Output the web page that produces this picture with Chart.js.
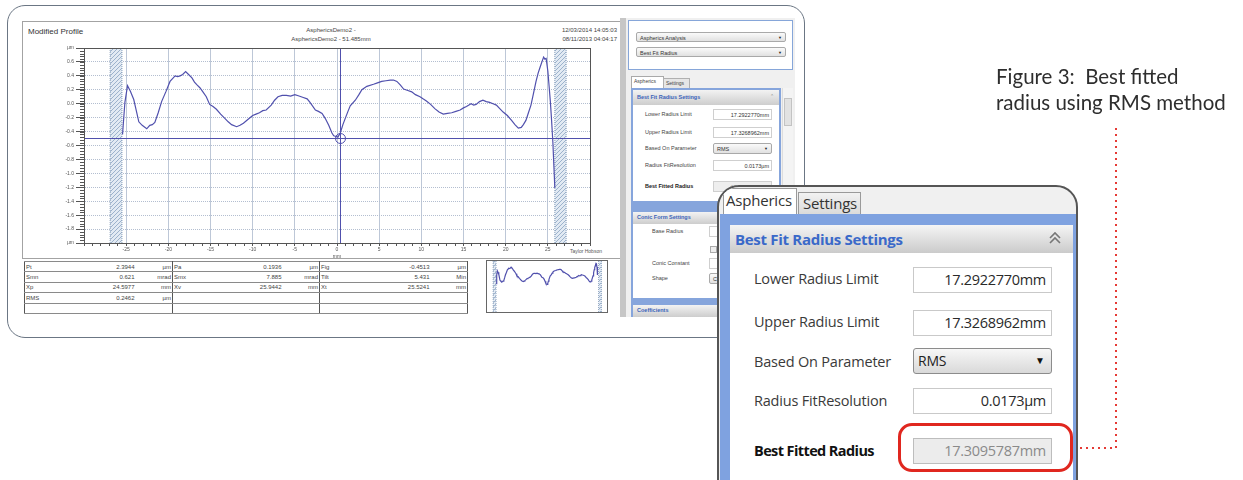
<!DOCTYPE html>
<html>
<head>
<meta charset="utf-8">
<script src="https://cdn.jsdelivr.net/npm/chart.js@4.4.0/dist/chart.umd.min.js"></script>
<style>
    body { margin: 0; width: 1243px; height: 480px; background: #fff; position: relative; overflow: hidden; font-family: Arial, "Liberation Sans", sans-serif; }
    .abs { position: absolute; }
    .t { position: absolute; white-space: nowrap; color: #333; line-height: 1; }
    .frame { left: 7px; top: 5px; width: 796px; height: 331px; border: 1.5px solid #6b7684; border-radius: 18px; }
    .report { left: 22px; top: 21px; width: 597px; height: 236px; border: 1px solid #a3a3a3; }
    .small { font-size: 6px; color: #444; }
    #stats { position: absolute; left: 24px; top: 261px; border-collapse: collapse; font-size: 6px; color: #444; table-layout: fixed; }
    #stats td { height: 9.4px; padding: 0 1px; border-top: 1px solid #8a8a8a; border-bottom: 1px solid #8a8a8a; white-space: nowrap; line-height: 1; }
    #stats td.v, #stats td.u { text-align: right; }
    #stats td.u { border-right: 1px solid #555; }
    #stats td.l { border-left: 1px solid #555; }
    #stats { border: 1px solid #555; }
    .dd { position: absolute; height: 10px; border: 1px solid #a9a9a9; border-radius: 2px; background: linear-gradient(#fafafa, #e1e1e1); font-size: 5.5px; color: #333; line-height: 10px; padding-left: 3px; box-sizing: border-box; }
    .dd b { position: absolute; right: 3px; top: 0; font-size: 4px; color: #222; }
    .inp { position: absolute; height: 11px; border: 1px solid #cfcfcf; background: #fff; box-sizing: border-box; font-size: 5.5px; text-align: right; line-height: 10px; padding-right: 2px; color: #333; }
    .lab { position: absolute; font-size: 5.5px; color: #444; white-space: nowrap; line-height: 1; }
    .sec { position: absolute; background: linear-gradient(#f3f3f3, #cdcdcd); font-size: 5.5px; font-weight: bold; color: #3b63b9; line-height: 1; box-sizing: border-box; }
    /* zoomed callout */
    .callout { left: 717px; top: 185px; width: 357px; height: 330px; border: 2px solid #555; border-radius: 22px; background: #f0f0f0; overflow: hidden; }
    .cl { position: absolute; font-family: "Open Sans", "Noto Sans", sans-serif; font-size: 14.5px; color: #3a3a3a; white-space: nowrap; line-height: 1; letter-spacing: -0.2px; }
    .cin { position: absolute; left: 194px; width: 139px; height: 26px; border: 1px solid #c9c9c9; background: #fff; box-sizing: border-box; font-family: "Open Sans", "Noto Sans", sans-serif; font-size: 14.5px; letter-spacing: -0.3px; color: #2a2a2a; text-align: right; line-height: 24px; padding-right: 5px; }
    .caption { left: 996px; top: 63px; font-family: Lato, "Open Sans", sans-serif; font-size: 20.5px; line-height: 26px; color: #2e2e2e; white-space: nowrap; }
</style>
</head>
<body>

<div class="abs frame"></div>
<div class="abs report"></div>

<div class="t" style="left:28px;top:28px;font-size:8px;color:#333;">Modified Profile</div>
<div class="t small" style="left:291px;top:27px;width:80px;text-align:center;">AsphericsDemo2 -</div>
<div class="t small" style="left:291px;top:36px;width:80px;text-align:center;">AsphericsDemo2 - 51.485mm</div>
<div class="t small" style="left:540px;top:27px;width:77px;text-align:right;">12/03/2014 14:05:03</div>
<div class="t small" style="left:540px;top:36px;width:77px;text-align:right;">08/11/2013 04:04:17</div>
<div class="t" style="left:570px;top:249px;font-size:5px;color:#555;">Taylor Hobson</div>

<canvas id="profile" class="abs" style="left:22px;top:20px;" width="598" height="240"></canvas>

<table id="stats"></table>

<div class="abs" style="left:486px;top:260px;width:120px;height:51px;border:1px solid #666;"></div>
<canvas id="mini" class="abs" style="left:487px;top:261px;" width="120" height="51"></canvas>

<!-- side panel of the screenshot -->
<div class="abs" style="left:620px;top:18px;width:6px;height:299px;background:#c6c6c6;"></div>
<div class="abs" style="left:626px;top:18px;width:169px;height:299px;background:#f0f0f0;"></div>
<div class="abs" style="left:628px;top:20px;width:163px;height:48px;border:1.5px solid #86a6d9;background:#fff;"></div>
<div class="dd" style="left:636px;top:32px;width:150px;">Aspherics Analysis<b>&#9660;</b></div>
<div class="dd" style="left:636px;top:47px;width:150px;">Best Fit Radius<b>&#9660;</b></div>
<div class="abs" style="left:631px;top:76px;width:31px;height:12px;background:#fff;border:1px solid #a9a9a9;border-bottom:none;"></div>
<div class="lab" style="left:634px;top:79px;font-size:5px;">Aspherics</div>
<div class="abs" style="left:663px;top:78px;width:25px;height:10px;background:#e6e6e6;border:1px solid #b0b0b0;border-bottom:none;"></div>
<div class="lab" style="left:666px;top:81px;font-size:5px;">Settings</div>
<div class="abs" style="left:631px;top:88px;width:150px;height:229px;background:#86a5dc;"></div>
<div class="abs" style="left:633px;top:90px;width:146px;height:111px;background:#fff;"></div>
<div class="sec" style="left:633px;top:90px;width:146px;height:15px;padding:5px 0 0 4px;">Best Fit Radius Settings</div>
<div class="lab" style="left:770px;top:94px;color:#888;font-size:5px;">&#8963;</div>
<div class="abs" style="left:782px;top:88px;width:10px;height:140px;background:#f4f4f4;border-left:1px solid #ddd;"></div>
<div class="abs" style="left:784px;top:98px;width:6px;height:26px;background:#e2e2e2;border:1px solid #c3c3c3;"></div>
<div class="lab" style="left:645px;top:112px;">Lower Radius Limit</div>
<div class="inp" style="left:713px;top:109px;width:59px;">17.2922770mm</div>
<div class="lab" style="left:645px;top:130px;">Upper Radius Limit</div>
<div class="inp" style="left:713px;top:127px;width:59px;">17.3268962mm</div>
<div class="lab" style="left:645px;top:146px;">Based On Parameter</div>
<div class="dd" style="left:713px;top:143px;width:59px;height:11px;">RMS<b>&#9660;</b></div>
<div class="lab" style="left:645px;top:163px;">Radius FitResolution</div>
<div class="inp" style="left:713px;top:160px;width:59px;">0.0173&micro;m</div>
<div class="lab" style="left:645px;top:184px;font-weight:bold;color:#222;">Best Fitted Radius</div>
<div class="inp" style="left:713px;top:181px;width:59px;background:#eee;color:#999;">17.3095787mm</div>
<div class="abs" style="left:633px;top:212px;width:146px;height:86px;background:#fff;"></div>
<div class="sec" style="left:633px;top:212px;width:146px;height:12px;padding:3px 0 0 4px;">Conic Form Settings</div>
<div class="lab" style="left:652px;top:229px;">Base Radius</div>
<div class="inp" style="left:709px;top:226px;width:30px;"></div>
<div class="abs" style="left:710px;top:246px;width:5px;height:5px;border:1px solid #aaa;background:#eee;"></div>
<div class="lab" style="left:652px;top:261px;">Conic Constant</div>
<div class="inp" style="left:709px;top:258px;width:30px;"></div>
<div class="lab" style="left:652px;top:276px;">Shape</div>
<div class="dd" style="left:709px;top:273px;width:30px;height:11px;">C</div>
<div class="sec" style="left:633px;top:305px;width:146px;height:12px;padding:3px 0 0 4px;">Coefficients</div>

<!-- zoomed callout -->
<div class="abs callout">
    <div class="abs" style="left:4px;top:1px;width:74px;height:27px;background:#fff;border:1px solid #9a9a9a;border-bottom:none;box-sizing:border-box;"></div>
    <div class="cl" style="left:7px;top:6px;font-size:15px;color:#333;">Aspherics</div>
    <div class="abs" style="left:79px;top:5px;width:63px;height:22px;background:linear-gradient(#f2f2f2,#dadada);border:1px solid #9a9a9a;border-bottom:none;box-sizing:border-box;"></div>
    <div class="cl" style="left:84px;top:9px;font-size:15px;color:#333;">Settings</div>
    <div class="abs" style="left:1px;top:27px;width:360px;height:320px;background:#7fa2e0;"></div>
    <div class="abs" style="left:11px;top:38px;width:343px;height:300px;background:#fff;"></div>
    <div class="abs" style="left:11px;top:38px;width:343px;height:28px;background:linear-gradient(#f5f5f5,#cbcbcb);"></div>
    <div class="cl" style="left:16px;top:45px;font-size:15px;font-weight:bold;color:#3a69c9;letter-spacing:-0.3px;">Best Fit Radius Settings</div>
    <svg class="abs" style="left:329px;top:44px;" width="14" height="14">
        <polyline points="2,7 7,2 12,7" fill="none" stroke="#777" stroke-width="1.6"/>
        <polyline points="2,12 7,7 12,12" fill="none" stroke="#777" stroke-width="1.6"/>
    </svg>
    <div class="cl" style="left:35px;top:85px;">Lower Radius Limit</div>
    <div class="cin" style="top:80px;">17.2922770mm</div>
    <div class="cl" style="left:35px;top:128px;">Upper Radius Limit</div>
    <div class="cin" style="top:123px;">17.3268962mm</div>
    <div class="cl" style="left:35px;top:168px;">Based On Parameter</div>
    <div class="abs" style="left:194px;top:161px;width:139px;height:26px;border:1px solid #8c8c8c;border-radius:3px;background:linear-gradient(#f7f7f7,#d9d9d9);box-sizing:border-box;"></div>
    <div class="cl" style="left:199px;top:167px;font-size:14px;color:#222;">RMS</div>
    <div class="cl" style="left:316px;top:168px;font-size:10px;color:#111;">&#9660;</div>
    <div class="cl" style="left:35px;top:207px;">Radius FitResolution</div>
    <div class="cin" style="top:201px;">0.0173&micro;m</div>
    <div class="cl" style="left:35px;top:257px;font-weight:bold;color:#111;letter-spacing:-0.6px;">Best Fitted Radius</div>
    <div class="cin" style="top:251px;background:#ececec;border-color:#bdbdbd;color:#8a8a8a;">17.3095787mm</div>
    <div class="abs" style="left:179px;top:236px;width:175px;height:49px;border:3px solid #e0271f;border-radius:14px;box-sizing:border-box;"></div>
</div>

<svg class="abs" style="left:0;top:0;" width="1243" height="480">
    <polyline points="1080,448 1116,448 1116,127" fill="none" stroke="#e53a35" stroke-width="2" stroke-dasharray="2 4"/>
</svg>

<div class="abs caption">Figure 3:&nbsp; Best fitted<br>radius using RMS method</div>

<script>
// --- DATA ---
const profileX = [
    -25.43, -25.15, -24.84, -24.5, -24.1, -23.8, -23.5, -23.1, -22.56, -22.2, -21.9, -21.6, -21.2, -20.8,
    -20.3, -19.8, -19.5, -19.2, -18.9, -18.6, -18.3, -17.95, -17.6, -17.2, -16.9, -16.6, -16.26, -15.9,
    -15.5, -15.1, -14.7, -14.3, -13.8, -13.3, -12.9, -12.5, -11.9, -11.5, -11.1, -10.5, -10.0, -9.6,
    -9.2, -8.8, -8.4, -7.8, -7.4, -7.0, -6.5, -6.0, -5.5, -5.0, -4.5, -4.0, -3.54, -3.2, -2.56, -2.2,
    -1.77, -1.4, -0.98, -0.6, -0.39, -0.1, 0.1, 0.39, 0.7, 0.98, 1.3, 1.57, 2.17, 2.6, 2.95, 3.54,
    4.33, 4.8, 5.3, 5.8, 6.3, 6.7, 7.1, 7.5, 7.9, 8.4, 8.86, 9.3, 9.84, 10.2, 10.6, 11.1, 11.6, 12.1,
    12.6, 13.1, 13.6, 14.1, 14.6, 15.0, 15.35, 15.9, 16.2, 16.5, 16.9, 17.3, 17.7, 18.1, 18.5, 18.9,
    19.3, 19.7, 20.2, 20.7, 21.1, 21.5, 21.85, 22.1, 22.4, 22.7, 23.0, 23.3, 23.6, 23.85, 24.1, 24.3,
    24.5, 24.65, 24.8, 25.0, 25.15, 25.3, 25.45, 25.6, 25.72, 25.83
];
const profileY = [
    -0.44, 0.02, 0.26, 0.18, 0.06, -0.10, -0.26, -0.31, -0.36, -0.31, -0.30, -0.27, -0.13, 0.03,
    0.17, 0.32, 0.36, 0.40, 0.39, 0.40, 0.42, 0.46, 0.42, 0.37, 0.31, 0.27, 0.23, 0.17,
    0.10, -0.01, -0.04, -0.08, -0.15, -0.21, -0.26, -0.30, -0.33, -0.31, -0.28, -0.22, -0.17, -0.15,
    -0.13, -0.10, -0.09, -0.02, 0.05, 0.10, 0.12, 0.12, 0.11, 0.13, 0.11, 0.09, 0.07, 0.02, -0.09, -0.11,
    -0.14, -0.21, -0.31, -0.42, -0.46, -0.47, -0.48, -0.42, -0.30, -0.21, -0.11, -0.03, 0.05, 0.13, 0.20, 0.25,
    0.28, 0.30, 0.32, 0.33, 0.34, 0.34, 0.32, 0.27, 0.21, 0.19, 0.17, 0.13, 0.10, 0.07, 0.04, -0.01, -0.07, -0.12,
    -0.15, -0.14, -0.13, -0.11, -0.09, -0.06, -0.04, 0.00, -0.02, -0.01, 0.03, 0.05, 0.03, 0.02, 0.00, -0.02,
    -0.07, -0.12, -0.17, -0.24, -0.30, -0.35, -0.34, -0.30, -0.24, -0.13, -0.02, 0.15, 0.32, 0.44, 0.53, 0.60,
    0.67, 0.64, 0.65, 0.47, 0.25, 0.03, -0.25, -0.56, -0.90, -1.21
];

// excluded end zones (hatched), cursor and reference level
const hatchFrom = [-26.9, 25.83];
const hatchTo = [-25.5, 27.17];
const cursorX = 0.3;
const refLevel = -0.49;

const X_MIN = -30, X_MAX = 30;
const Y_MIN = -2.0, Y_MAX = 0.8;

// statistics table
const statRows = [
    ['Pt', '2.3944', 'µm', 'Pa', '0.1936', 'µm', 'Fig', '-0.4513', 'µm'],
    ['Smn', '0.621', 'mrad', 'Smx', '7.885', 'mrad', 'Tilt', '5.431', 'Min'],
    ['Xp', '24.5977', 'mm', 'Xv', '25.9442', 'mm', 'Xt', '25.5241', 'mm'],
    ['RMS', '0.2462', 'µm', '', '', '', '', '', ''],
    ['', '', '', '', '', '', '', '', '']
];

const LINE_COLOR = '#5050ad';

function makeHatch(ctx) {
    const c = document.createElement('canvas');
    c.width = 4; c.height = 4;
    const g = c.getContext('2d');
    g.fillStyle = '#e2eaf3';
    g.fillRect(0, 0, 4, 4);
    g.strokeStyle = '#9cb2cc';
    g.beginPath(); g.moveTo(0, 4); g.lineTo(4, 0); g.stroke();
    return ctx.createPattern(c, 'repeat');
}

const profileDecor = {
    id: 'profileDecor',
    beforeDatasetsDraw(chart, args, opts) {
        const { ctx, chartArea: a, scales: { x } } = chart;
        ctx.save();
        ctx.fillStyle = makeHatch(ctx);
        ctx.strokeStyle = '#8aa0bd';
        ctx.lineWidth = 1;
        ctx.setLineDash([1, 1]);
        hatchFrom.forEach((s, i) => {
            const x0 = x.getPixelForValue(s), x1 = x.getPixelForValue(hatchTo[i]);
            ctx.fillRect(x0, a.top, x1 - x0, a.bottom - a.top);
            ctx.beginPath();
            ctx.moveTo(x0, a.top); ctx.lineTo(x0, a.bottom);
            ctx.moveTo(x1, a.top); ctx.lineTo(x1, a.bottom);
            ctx.stroke();
        });
        ctx.restore();
    },
    afterDatasetsDraw(chart, args, opts) {
        if (!opts.full) return;
        const { ctx, chartArea: a, scales: { x, y } } = chart;
        ctx.save();
        // reference level + cursor
        ctx.strokeStyle = LINE_COLOR;
        ctx.lineWidth = 1;
        const ry = Math.round(y.getPixelForValue(refLevel)) + 0.5;
        const cx = Math.round(x.getPixelForValue(cursorX)) + 0.5;
        ctx.beginPath();
        ctx.moveTo(a.left, ry); ctx.lineTo(a.right, ry);
        ctx.moveTo(cx, a.top); ctx.lineTo(cx, a.bottom);
        ctx.stroke();
        ctx.beginPath();
        ctx.arc(cx, ry, 5, 0, Math.PI * 2);
        ctx.stroke();
        // plot frame
        ctx.strokeStyle = '#555';
        ctx.strokeRect(a.left + 0.5, a.top + 0.5, a.right - a.left, a.bottom - a.top);
        // minor y ticks
        ctx.beginPath();
        for (let i = 0; i <= 70; i++) {
            const py = Math.round(y.getPixelForValue(Y_MIN + i * 0.04)) + 0.5;
            ctx.moveTo(a.left - 4, py); ctx.lineTo(a.left, py);
        }
        ctx.stroke();
        ctx.restore();
    }
};

function yLabel(v) {
    if (Math.abs(v - Y_MAX) < 1e-6 || Math.abs(v - Y_MIN) < 1e-6) return 'µm';
    if (Math.abs(v) < 1e-6) return '0.0';
    return v.toFixed(1);
}

function profilePoints(maxX) {
    return profileX
        .map((x, i) => ({ x, y: profileY[i] }))
        .filter(p => p.x <= maxX);
}

document.addEventListener('DOMContentLoaded', () => {
    // Table
    const table = document.getElementById('stats');
    const widths = [36, 75, 37, 36, 74, 37, 36, 75, 37];
    table.innerHTML = '<colgroup>' + widths.map(w => `<col style="width:${w}px">`).join('') + '</colgroup>' +
        statRows.map(r => '<tr>' + r.map((c, i) => {
            const cls = i % 3 === 0 ? 'l' : (i % 3 === 1 ? 'v' : 'u');
            return `<td class="${cls}">${c}</td>`;
        }).join('') + '</tr>').join('');
    table.style.width = widths.reduce((s, w) => s + w, 0) + 'px';

    // Main profile chart
    new Chart(document.getElementById('profile'), {
        type: 'line',
        data: {
            datasets: [{
                data: profilePoints(X_MAX),
                borderColor: LINE_COLOR,
                borderWidth: 1.2,
                pointRadius: 0,
                tension: 0
            }]
        },
        options: {
            responsive: false,
            animation: false,
            devicePixelRatio: 1,
            layout: { padding: { top: 28, right: 30, left: 0, bottom: 0 } },
            plugins: {
                legend: { display: false },
                tooltip: { enabled: false },
                profileDecor: { full: true }
            },
            scales: {
                x: {
                    type: 'linear',
                    min: X_MIN,
                    max: X_MAX,
                    afterFit: s => { s.height = 17; },
                    ticks: {
                        stepSize: 1,
                        autoSkip: false,
                        maxRotation: 0,
                        minRotation: 0,
                        padding: 1,
                        color: '#555',
                        font: { size: 5, family: 'Arial' },
                        callback: v => (v % 5 === 0 && Math.abs(v) < 30) ? String(v) : ''
                    },
                    grid: {
                        color: c => (c.tick && c.tick.value % 5 === 0) ? '#bdc7d7' : 'rgba(0,0,0,0)',
                        tickColor: '#555',
                        tickLength: 3
                    },
                    border: { color: '#555' },
                    title: { display: true, text: 'mm', color: '#555', font: { size: 5, family: 'Arial' }, padding: 0 }
                },
                y: {
                    min: Y_MIN,
                    max: Y_MAX,
                    afterFit: s => { s.width = 62; },
                    ticks: {
                        stepSize: 0.2,
                        autoSkip: false,
                        padding: 2,
                        color: '#555',
                        font: { size: 5, family: 'Arial' },
                        callback: yLabel
                    },
                    grid: { color: '#b3bed0', tickColor: '#555', tickLength: 8 },
                    border: { color: '#555', dash: [1, 1] }
                }
            }
        },
        plugins: [profileDecor]
    });

    // Overview thumbnail
    new Chart(document.getElementById('mini'), {
        type: 'line',
        data: {
            datasets: [{
                data: profilePoints(25.3),
                borderColor: LINE_COLOR,
                borderWidth: 1.2,
                pointRadius: 0,
                tension: 0
            }]
        },
        options: {
            responsive: false,
            animation: false,
            devicePixelRatio: 1,
            layout: { padding: 0 },
            plugins: {
                legend: { display: false },
                tooltip: { enabled: false },
                profileDecor: { full: false }
            },
            scales: {
                x: { type: 'linear', min: X_MIN, max: X_MAX, display: false },
                y: { min: Y_MIN, max: Y_MAX, display: false }
            }
        },
        plugins: [profileDecor]
    });
});
</script>
</body>
</html>
